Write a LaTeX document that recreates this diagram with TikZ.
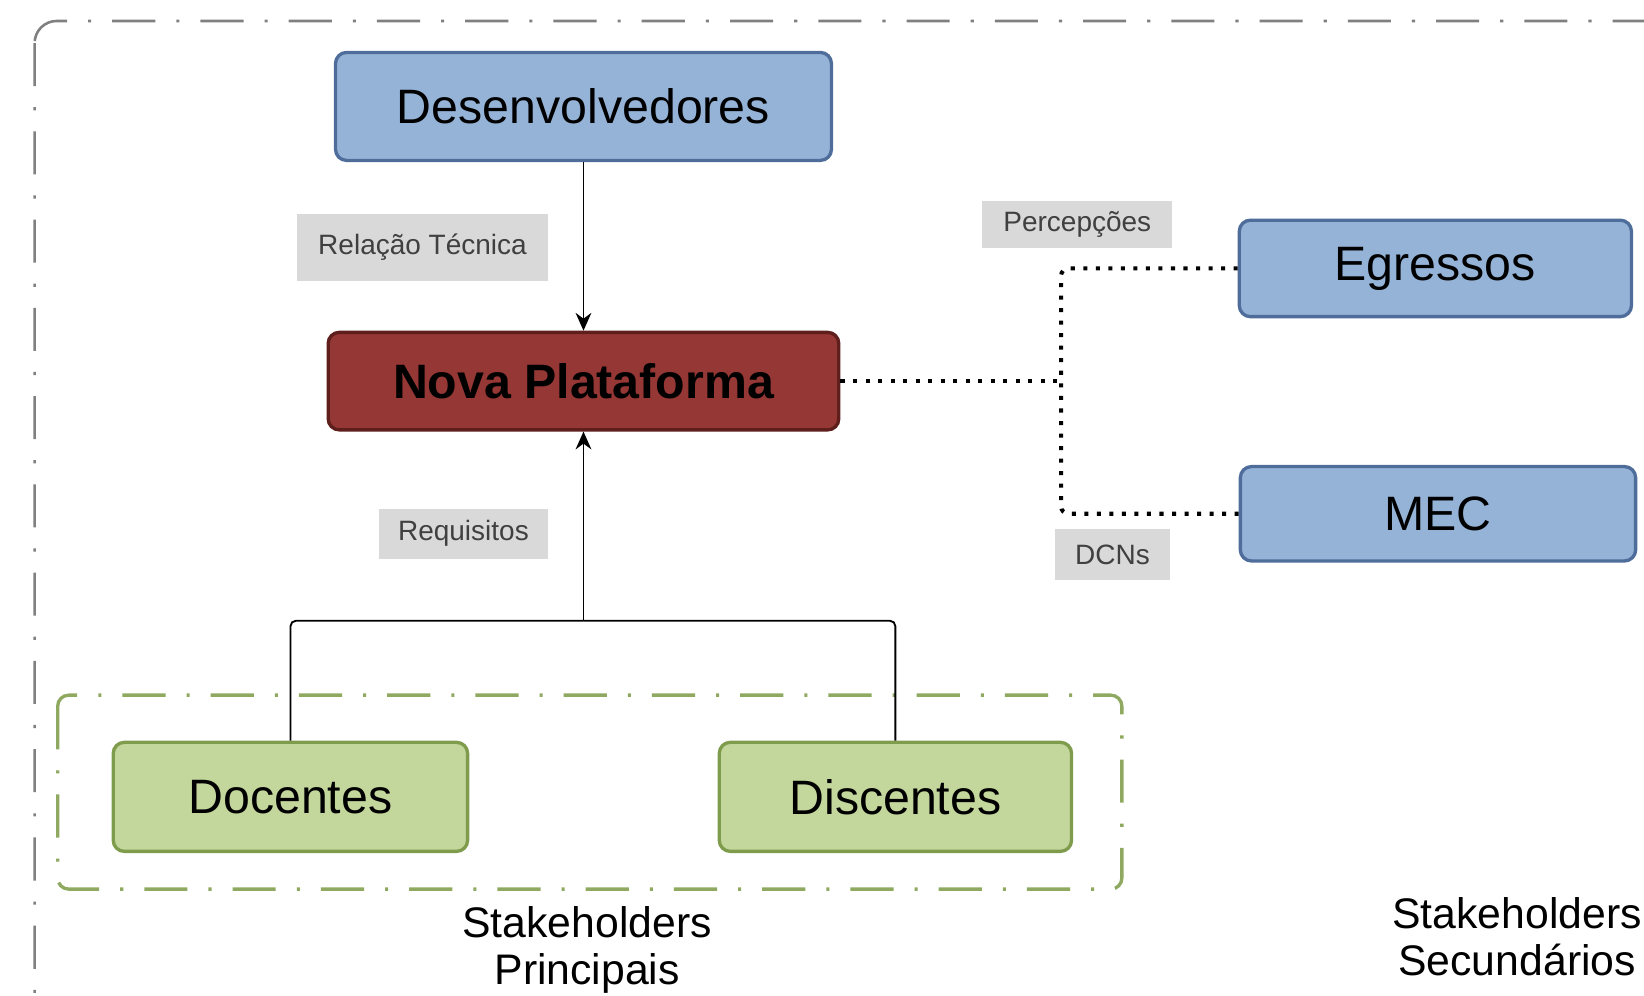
\documentclass[tikz,border=0pt]{standalone}
\usepackage{fontspec}
\setmainfont{Liberation Sans}
\usetikzlibrary{arrows.meta}
\definecolor{boxblue}{HTML}{95B3D7}
\definecolor{edgeblue}{HTML}{4F6D9A}
\definecolor{boxred}{HTML}{953735}
\definecolor{edgered}{HTML}{5E1E1C}
\definecolor{boxgreen}{HTML}{C3D69B}
\definecolor{edgegreen}{HTML}{7F9B4C}
\definecolor{framegreen}{HTML}{8FAA60}
\definecolor{framegray}{HTML}{808080}
\definecolor{taggray}{HTML}{D9D9D9}
\definecolor{tagtext}{HTML}{404040}
\def\bigfont{\fontsize{13.1}{15}\selectfont}
\def\tagfont{\fontsize{7.6}{9}\selectfont}
\def\groupfont{\fontsize{11.6}{12.8}\selectfont}

\begin{document}
\begin{tikzpicture} [x = 1 cm, y = 1 cm,
    stake/.style = {rounded corners = 3pt, line width = 0.9pt,
      inner sep = 0pt, font = \bigfont},
    bluebox/.style = {stake, fill = boxblue, draw = edgeblue},
    redbox/.style = {stake, fill = boxred, draw = edgered,
      font = \bigfont\bfseries},
    greenbox/.style = {stake, fill = boxgreen, draw = edgegreen},
    tag/.style = {fill = taggray, text = tagtext, inner sep = 0pt,
      font = \tagfont},
    group/.style = {align = center, inner sep = 0pt, font = \groupfont},
    dashdot/.style = {line width = 0.7pt,
      dash pattern = on 11.7pt off 5.7pt on 0.85pt off 5.7pt},
    link/.style = {line width = 0.5pt, rounded corners = 1.5pt},
    arrow/.style = {link, -{Stealth[length = 1.7mm, width = 1.5mm]}},
    dotlink/.style = {line width = 1.1pt, rounded corners = 2pt,
      dash pattern = on 1.1pt off 2.3pt}]
    \useasboundingbox (0, 0) rectangle (15.68, -9.49);
    \clip (0, 0) rectangle (15.68, -9.49);

    \draw[dashdot, framegray, rounded corners = 6pt]
      (0.33, -0.20) rectangle (16.40, -10.20);
    \draw[dashdot, framegreen, line width = 0.9pt, rounded corners = 3pt]
      (0.55, -6.63) rectangle (10.70, -8.48);

    \node[bluebox, minimum width = 4.73 cm, minimum height = 1.03 cm]
      (dev) at (5.565, -1.015) {Desenvolvedores};
    \node[redbox, minimum width = 4.87 cm, minimum height = 0.93 cm]
      (nova) at (5.565, -3.635) {Nova Plataforma};
    \node[bluebox, minimum width = 3.74 cm, minimum height = 0.92 cm]
      (egr) at (13.69, -2.56) {Egressos};
    \node[bluebox, minimum width = 3.77 cm, minimum height = 0.90 cm]
      (mec) at (13.715, -4.90) {MEC};
    \node[greenbox, minimum width = 3.38 cm, minimum height = 1.04 cm]
      (doc) at (2.77, -7.60) {Docentes};
    \node[greenbox, minimum width = 3.36 cm, minimum height = 1.04 cm]
      (dis) at (8.54, -7.60) {Discentes};

    \node[tag, minimum width = 2.40 cm, minimum height = 0.64 cm]
      (rel) at (4.03, -2.36) {Relação Técnica};
    \node[tag, minimum width = 1.81 cm, minimum height = 0.45 cm]
      (per) at (10.275, -2.145) {Percepções};
    \node[tag, minimum width = 1.62 cm, minimum height = 0.48 cm]
      (req) at (4.42, -5.09) {Requisitos};
    \node[tag, minimum width = 1.10 cm, minimum height = 0.48 cm]
      (dcn) at (10.61, -5.29) {DCNs};

    \node[group] (prin) at (5.60, -9.06) {Stakeholders\\Principais};
    \node[group] (sec) at (14.47, -8.93) {Stakeholders\\Secundários};

    \coordinate (jn) at (5.565, -5.92);
    \coordinate (dt) at (10.12, -3.635);

    \draw[arrow] (dev.south) -- (nova.north);
    \draw[link] (doc.north) |- (jn);
    \draw[link] (dis.north) |- (jn);
    \draw[arrow] (jn) -- (nova.south);

    \draw[dotlink] (nova.east) -- (dt);
    \draw[dotlink] (egr.west) -| (dt);
    \draw[dotlink] (mec.west) -| (dt);
  \end{tikzpicture}
\end{document}
